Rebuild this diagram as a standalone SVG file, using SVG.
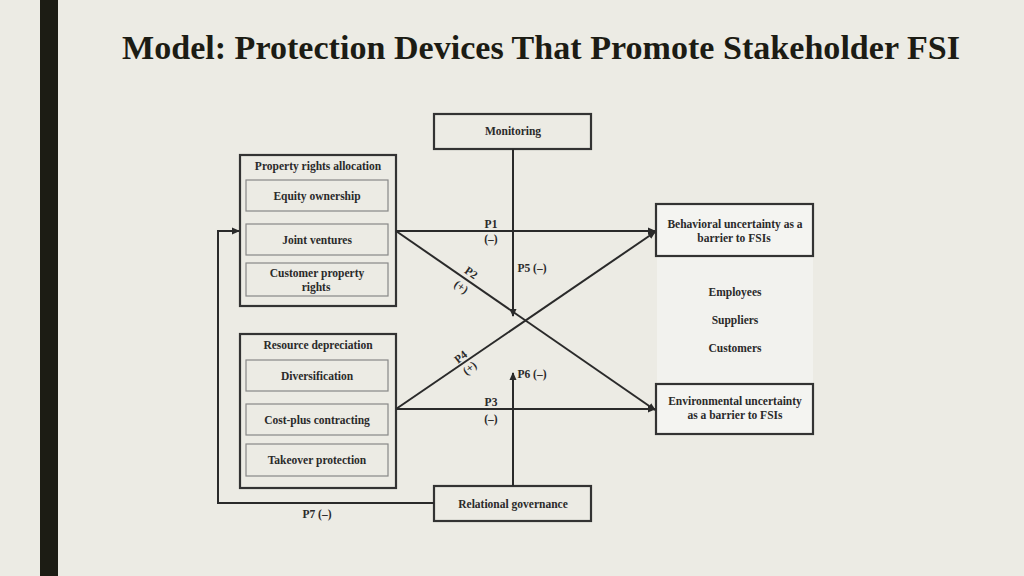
<svg xmlns="http://www.w3.org/2000/svg" width="1024" height="576" viewBox="0 0 1024 576">
<style>
.t{font-family:"Liberation Serif",serif;font-weight:bold;font-size:11.5px;fill:#2a2a2a;text-anchor:middle}
.b{fill:none;stroke:#333;stroke-width:2.2}
.i{fill:none;stroke:#888;stroke-width:1.2}
.w{fill:#f4f4f1;stroke:#333;stroke-width:2.2}
.c{fill:none;stroke:#2a2a2a;stroke-width:2}
</style>
<defs><marker id="a" markerWidth="8" markerHeight="8" refX="7" refY="4" orient="auto" markerUnits="userSpaceOnUse"><path d="M0,0.5 L8,4 L0,7.5 Z" fill="#2a2a2a"/></marker></defs>
<rect width="1024" height="576" fill="#ecebe4"/>
<rect x="40" y="0" width="18" height="576" fill="#1c1c14"/>
<text x="122" y="59" font-family="Liberation Serif,serif" font-weight="bold" font-size="34" fill="#1c1c14" textLength="838" lengthAdjust="spacingAndGlyphs">Model: Protection Devices That Promote Stakeholder FSI</text>
<rect x="657" y="256" width="156" height="128" fill="#f2f2ee"/>
<g id="monitoring"><rect class="b" x="434" y="114" width="157" height="35"/><text class="t" x="513" y="135">Monitoring</text></g>
<g id="property"><rect class="b" x="240" y="155" width="156" height="151"/><text class="t" x="318" y="170">Property rights allocation</text>
<rect class="i" x="246" y="180" width="142" height="31"/><text class="t" x="317" y="200">Equity ownership</text>
<rect class="i" x="246" y="224" width="142" height="31"/><text class="t" x="317" y="244">Joint ventures</text>
<rect class="i" x="246" y="263" width="142" height="33"/><text class="t" x="317" y="277">Customer property</text><text class="t" x="316" y="291">rights</text></g>
<g id="resource"><rect class="b" x="240" y="334" width="156" height="154"/><text class="t" x="318" y="349">Resource depreciation</text>
<rect class="i" x="246" y="360" width="142" height="31"/><text class="t" x="317" y="380">Diversification</text>
<rect class="i" x="246" y="404" width="142" height="31"/><text class="t" x="317" y="424">Cost-plus contracting</text>
<rect class="i" x="246" y="444" width="142" height="32"/><text class="t" x="317" y="464">Takeover protection</text></g>
<g id="behavioral"><rect class="w" x="656" y="204" width="157" height="52"/><text class="t" x="735" y="228">Behavioral uncertainty as a</text><text class="t" x="734" y="242">barrier to FSIs</text></g>
<g id="stakeholders"><text class="t" x="735" y="296">Employees</text><text class="t" x="735" y="324">Suppliers</text><text class="t" x="735" y="352">Customers</text></g>
<g id="environmental"><rect class="w" x="656" y="384" width="157" height="50"/><text class="t" x="735" y="405">Environmental uncertainty</text><text class="t" x="735" y="419">as a barrier to FSIs</text></g>
<g id="relational"><rect class="b" x="434" y="486" width="157" height="35"/><text class="t" x="513" y="508">Relational governance</text></g>
<g id="connectors">
<line class="c" x1="396" y1="231" x2="655" y2="231" marker-end="url(#a)"/>
<line class="c" x1="396" y1="231" x2="655" y2="410" marker-end="url(#a)"/>
<line class="c" x1="396" y1="409" x2="655" y2="409" marker-end="url(#a)"/>
<line class="c" x1="396" y1="409" x2="655" y2="232" marker-end="url(#a)"/>
<line class="c" x1="513" y1="149" x2="513" y2="316" marker-end="url(#a)"/>
<line class="c" x1="513" y1="486" x2="513" y2="373" marker-end="url(#a)"/>
<polyline class="c" points="434,503 218,503 218,231 239,231" marker-end="url(#a)"/>
</g>
<g id="labels">
<text class="t" x="491" y="228">P1</text><text class="t" x="491" y="243">(–)</text>
<text class="t" x="532" y="272">P5 (–)</text>
<text class="t" transform="translate(469,276) rotate(35)">P2</text>
<text class="t" transform="translate(459,290) rotate(35)">(+)</text>
<text class="t" transform="translate(463,360) rotate(-38)">P4</text>
<text class="t" transform="translate(472,371) rotate(-38)">(+)</text>
<text class="t" x="532" y="378">P6 (–)</text>
<text class="t" x="491" y="406">P3</text><text class="t" x="491" y="423">(–)</text>
<text class="t" x="317" y="518">P7 (–)</text>
</g>
</svg>
